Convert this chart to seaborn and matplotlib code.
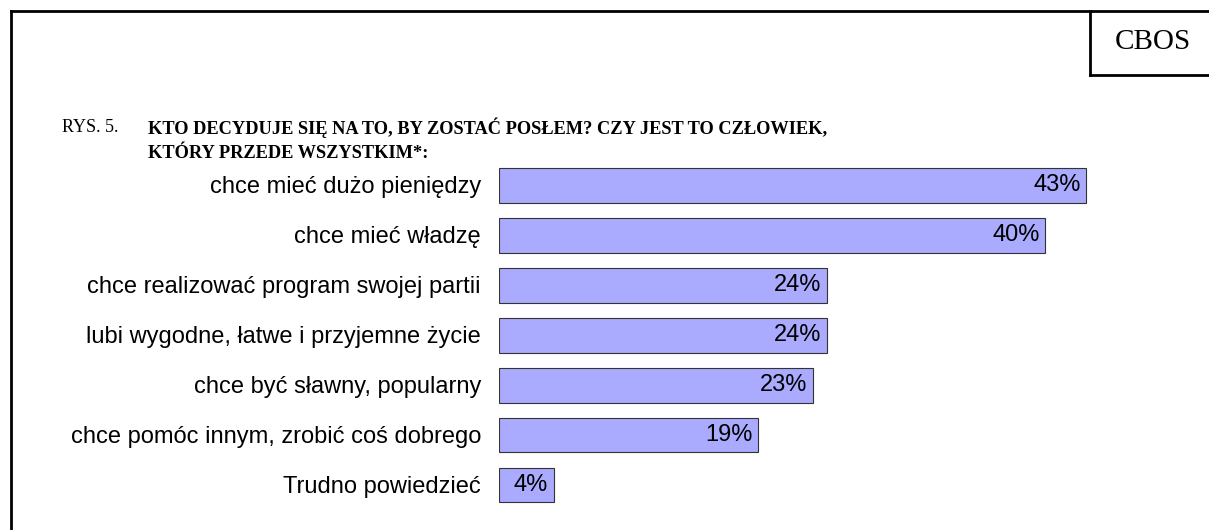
import matplotlib.pyplot as plt
import seaborn as sns
import pandas as pd
from matplotlib.lines import Line2D

categories = [
    "chce mieć dużo pieniędzy",
    "chce mieć władzę",
    "chce realizować program swojej partii",
    "lubi wygodne, łatwe i przyjemne życie",
    "chce być sławny, popularny",
    "chce pomóc innym, zrobić coś dobrego",
    "Trudno powiedzieć",
]
values = [43, 40, 24, 24, 23, 19, 4]

df = pd.DataFrame({"cat": categories, "val": values})

W, H = 1209, 530
fig = plt.figure(figsize=(W / 100, H / 100), dpi=100)

# axes placed so that 0% sits at x=499 px and 43% at x=1086 px
px_per_pct = (1086 - 499) / 43
xmax = 50
ax_w = xmax * px_per_pct
ax = fig.add_axes([499 / W, 1 - 510 / H, ax_w / W, 350 / H])

sns.barplot(data=df, x="val", y="cat", orient="h", color="#aaaaff",
            saturation=1, width=0.7, edgecolor="#333333", linewidth=0.8, ax=ax)
ax.set_xlim(0, xmax)
ax.set_ylim(6.5, -0.5)
for side in ax.spines.values():
    side.set_visible(False)
ax.set_xticks([])
ax.set_xlabel("")
ax.set_ylabel("")
ax.tick_params(axis="y", length=0, pad=13)
for lbl in ax.get_yticklabels():
    lbl.set_fontfamily("Liberation Sans")
    lbl.set_fontsize(17)

for i, v in enumerate(values):
    ax.text(v - 0.4, i, f"{v}%", ha="right", va="center",
            fontsize=17, family="Liberation Sans")

# frame lines
lw = 2
fig.add_artist(Line2D([11 / W, 1.0], [1 - 11 / H, 1 - 11 / H], color="black", lw=lw))
fig.add_artist(Line2D([11 / W, 11 / W], [1 - 11 / H, 0.0], color="black", lw=lw))
fig.add_artist(Line2D([1090 / W, 1090 / W], [1 - 11 / H, 1 - 75 / H], color="black", lw=lw))
fig.add_artist(Line2D([1090 / W, 1.0], [1 - 75 / H, 1 - 75 / H], color="black", lw=lw))

fig.text(1153 / W, 1 - 42 / H, "CBOS", ha="center", va="center",
         fontsize=21, family="Liberation Serif")

fig.text(62 / W, 1 - 128 / H, "RYS. 5.", ha="left", va="center",
         fontsize=13, family="Liberation Serif")
fig.text(148 / W, 1 - 128 / H, "KTO DECYDUJE SIĘ NA TO, BY ZOSTAĆ POSŁEM? CZY JEST TO CZŁOWIEK,",
         ha="left", va="center", fontsize=13.2, family="Liberation Serif", weight="bold")
fig.text(148 / W, 1 - 154 / H, "KTÓRY PRZEDE WSZYSTKIM*:",
         ha="left", va="center", fontsize=13.2, family="Liberation Serif", weight="bold")

fig.savefig("out.png", dpi=100)
